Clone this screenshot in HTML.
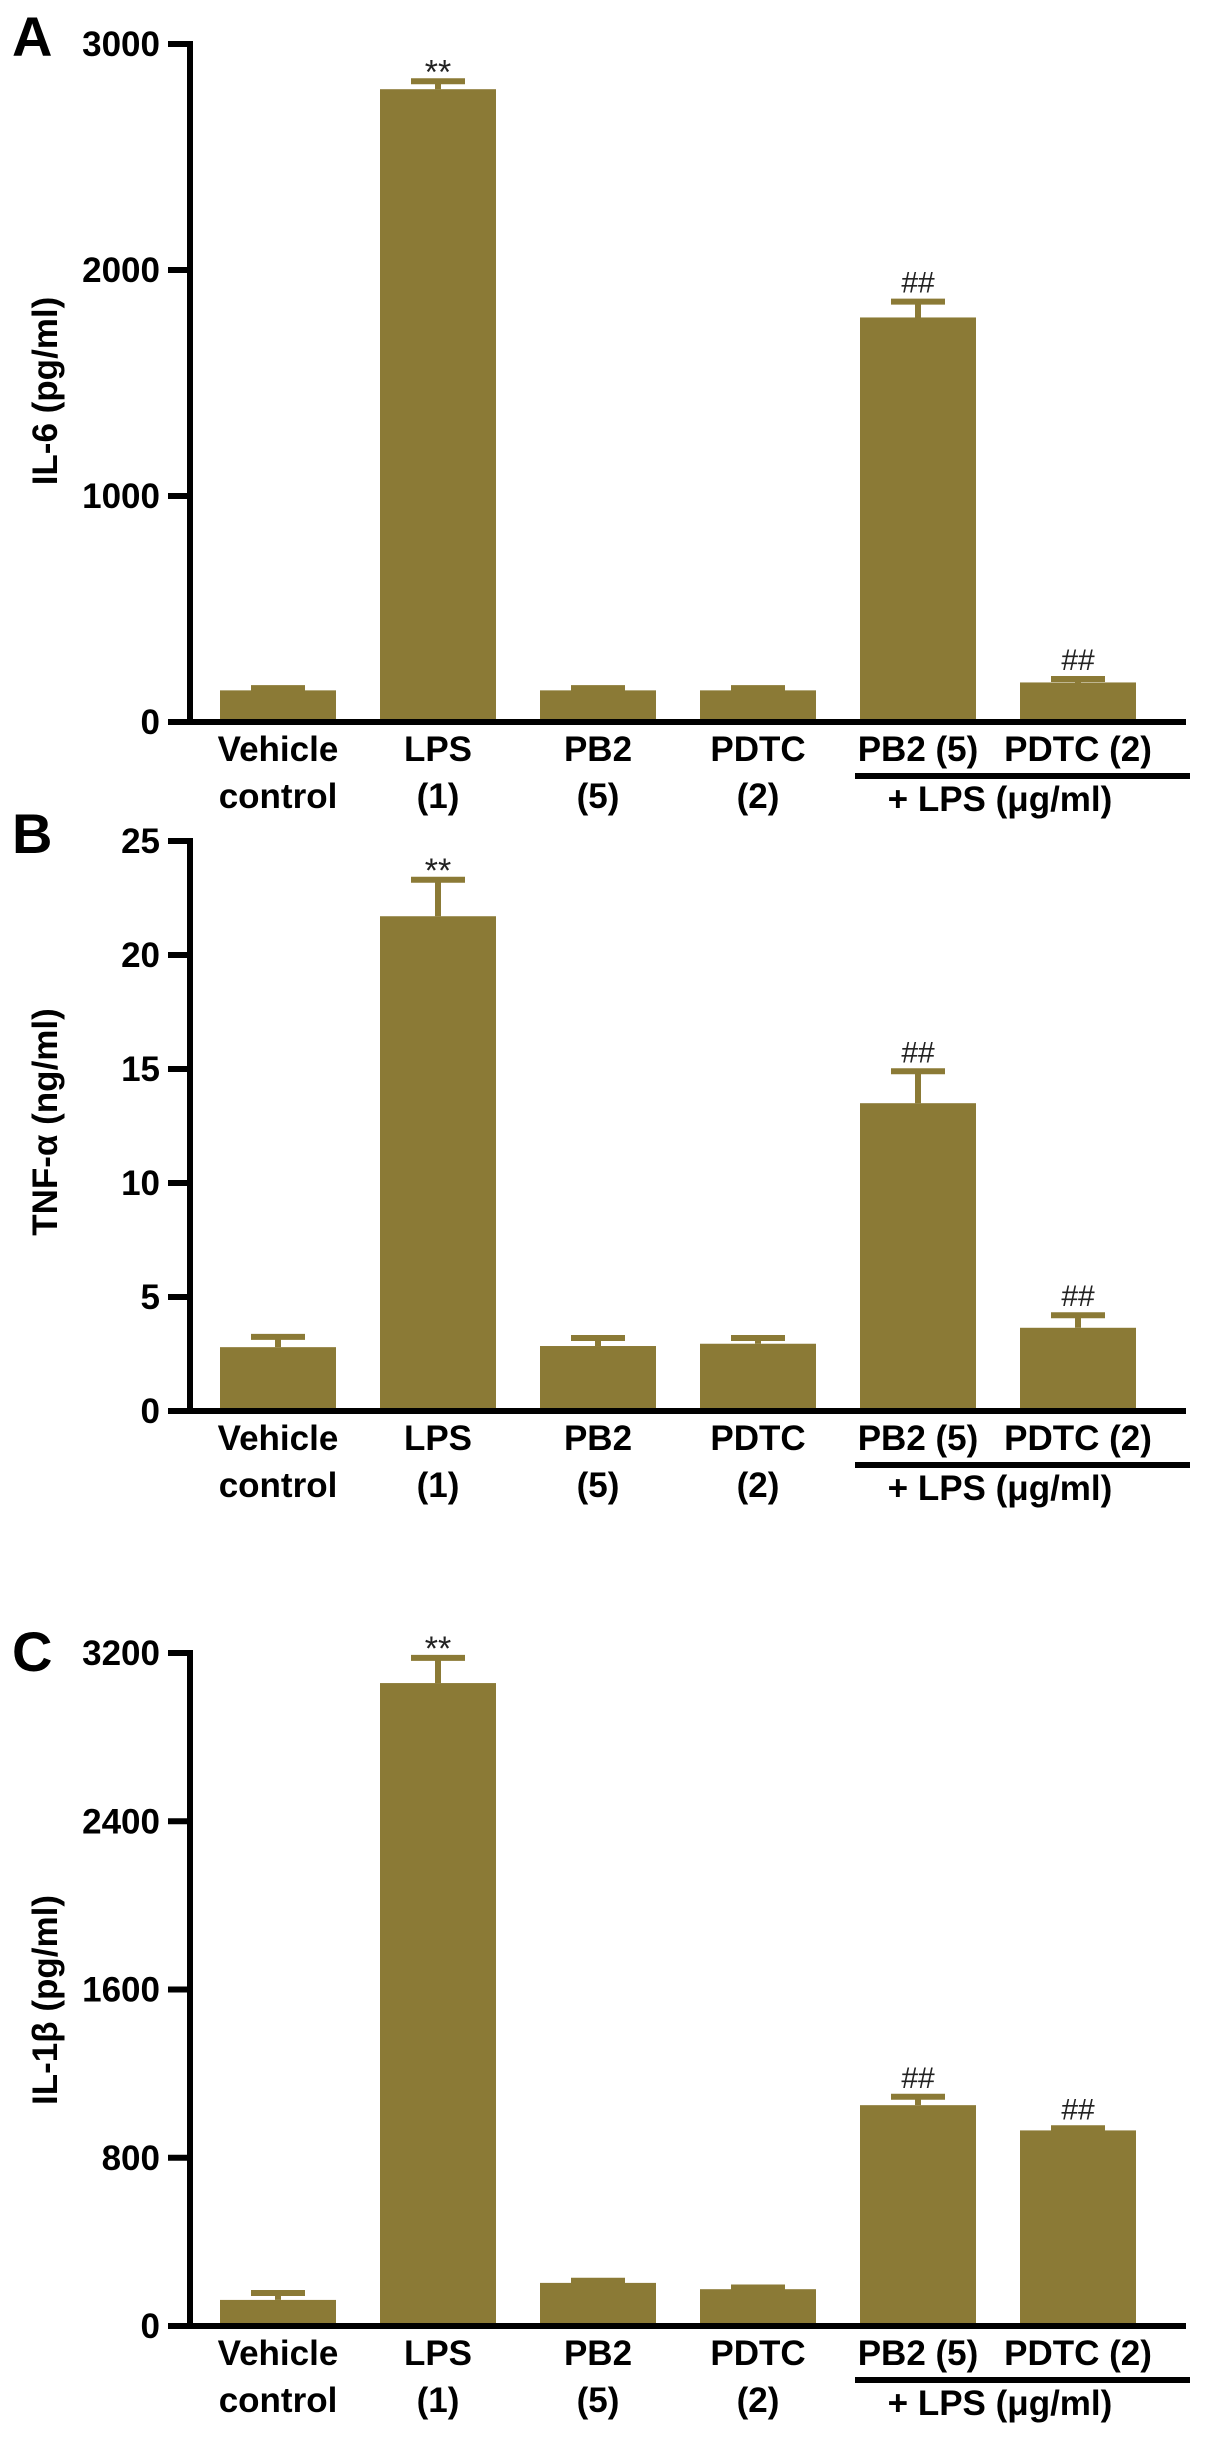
<!DOCTYPE html>
<html><head><meta charset="utf-8"><style>
html,body{margin:0;padding:0;background:#fff;}
svg{display:block;font-family:"Liberation Sans",Arial,sans-serif;font-weight:bold;}
</style></head><body>
<svg id="fig" width="1205" height="2437" viewBox="0 0 1205 2437"></svg>
<script>
const categories1 = ["Vehicle","LPS","PB2","PDTC","PB2 (5)","PDTC (2)"];
const categories2 = ["control","(1)","(5)","(2)","",""];
const il6Values = [140, 2800, 140, 140, 1790, 175];
const il6Errors = [10, 35, 10, 10, 70, 15];
const il6Ticks = [0, 1000, 2000, 3000];
const tnfValues = [2.8, 21.7, 2.85, 2.95, 13.5, 3.65];
const tnfErrors = [0.45, 1.6, 0.35, 0.25, 1.4, 0.55];
const tnfTicks = [0, 5, 10, 15, 20, 25];
const il1bValues = [124, 3057, 205, 175, 1050, 930];
const il1bErrors = [33, 120, 10, 8, 40, 10];
const il1bTicks = [0, 800, 1600, 2400, 3200];
const sigMarks = ["", "**", "", "", "##", "##"];

const NS = "http://www.w3.org/2000/svg";
const svg = document.getElementById("fig");
const COLOR = "#8b7a36";
function mk(tag, attrs, parent, text) {
  const e = document.createElementNS(NS, tag);
  for (const k in attrs) e.setAttribute(k, attrs[k]);
  if (text !== undefined) e.textContent = text;
  (parent || svg).appendChild(e);
  return e;
}
const xCenters0 = 278, xStep = 160, barW = 116;
function xScale(i) { return xCenters0 + i * xStep; }

function panel(p) {
  const g = mk("g", {});
  
  
  const yS = v => p.y0 - (v - 0) / p.max * (p.y0 - p.yTop);
  const L = mk("text", {x: 12, y: p.letterY, "font-size": 56}, g, p.letter);
  
  
  const T = mk("text", {x: 0, y: 0, "font-size": 35, "text-anchor": "middle",
    transform: `translate(57 ${p.titleY}) rotate(-90)`}, g, p.title);
  
  
  p.values.forEach((v, i) => {
    const cx = xScale(i);
    const top = yS(v), et = yS(v + p.errors[i]);
    const b = mk("rect", {x: cx - barW/2, y: top, width: barW, height: p.y0 - top, fill: COLOR}, g);
    
    
    const e = mk("path", {d: `M${cx} ${top} V${et} M${cx-27} ${et} H${cx+27}`, stroke: COLOR, "stroke-width": 6, fill: "none"}, g);
    
    
    if (sigMarks[i]) {
      const star = sigMarks[i] === "**";
      const s = mk("text", {x: cx, y: star ? et + 2 : et - 9, "font-size": star ? 34 : 30, "font-weight": "normal",
        "text-anchor": "middle", fill: "#222"}, g, sigMarks[i]);
      
      
    }
    const l1 = mk("text", {x: cx, y: p.y0 + 39, "font-size": 35, "text-anchor": "middle"}, g, categories1[i]);
    
    
    if (categories2[i]) {
      const l2 = mk("text", {x: cx, y: p.y0 + 86, "font-size": 35, "text-anchor": "middle"}, g, categories2[i]);
      
      
    }
  });
  const ya = mk("line", {x1: 190, x2: 190, y1: p.yTop - 3, y2: p.y0 + 3, stroke: "#000", "stroke-width": 6}, g);
  
  
  p.ticks.forEach(t => {
    const y = yS(t);
    const tk = mk("line", {x1: 168, x2: 190, y1: y, y2: y, stroke: "#000", "stroke-width": 6}, g);
    
    
    const tl = mk("text", {x: 160, y: y + 12, "font-size": 35, "text-anchor": "end"}, g, String(t));
    
    
  });
  const xa = mk("line", {x1: 172, x2: 1186, y1: p.y0, y2: p.y0, stroke: "#000", "stroke-width": 6}, g);
  
  
  const ul = mk("line", {x1: 855, x2: 1190, y1: p.y0 + 54, y2: p.y0 + 54, stroke: "#000", "stroke-width": 6}, g);
  
  
  const lt = mk("text", {x: 1000, y: p.y0 + 89, "font-size": 35, "text-anchor": "middle"}, g, "+ LPS (μg/ml)");
  
  
}

panel({name: "panel-a-il6", letter: "A", letterY: 56, title: "IL-6 (pg/ml)", titleY: 391,
  values: il6Values, errors: il6Errors, ticks: il6Ticks, max: 3000, yTop: 44, y0: 722});
panel({name: "panel-b-tnf", letter: "B", letterY: 853, title: "TNF-α (ng/ml)", titleY: 1122,
  values: tnfValues, errors: tnfErrors, ticks: tnfTicks, max: 25, yTop: 841, y0: 1411});
panel({name: "panel-c-il1b", letter: "C", letterY: 1671, title: "IL-1β (pg/ml)", titleY: 2000,
  values: il1bValues, errors: il1bErrors, ticks: il1bTicks, max: 3200, yTop: 1653, y0: 2326});
</script>
</body></html>
